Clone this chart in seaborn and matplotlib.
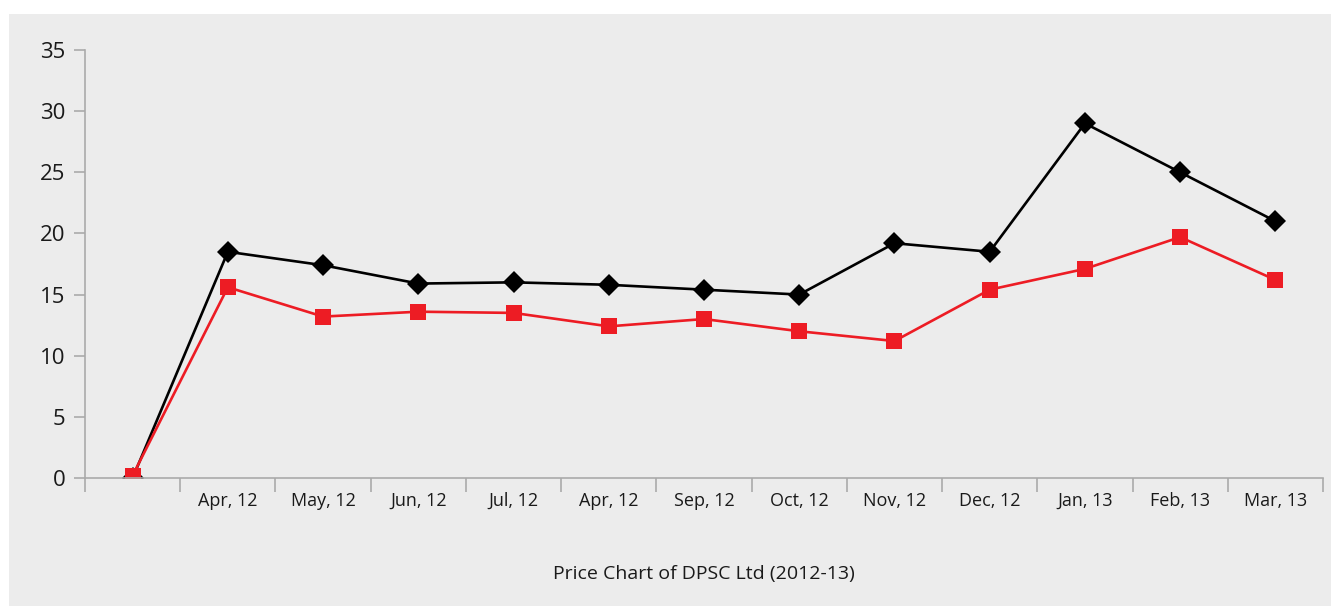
import matplotlib
matplotlib.use("Agg")
import matplotlib.pyplot as plt
import matplotlib.patches as patches
import seaborn as sns
import pandas as pd

# data
months = ["", "Apr, 12", "May, 12", "Jun, 12", "Jul, 12", "Apr, 12", "Sep, 12",
          "Oct, 12", "Nov, 12", "Dec, 12", "Jan, 13", "Feb, 13", "Mar, 13"]
high = [0.0, 18.5, 17.4, 15.9, 16.0, 15.8, 15.4, 15.0, 19.2, 18.5, 29.0, 25.0, 21.0]
low = [0.2, 15.6, 13.2, 13.6, 13.5, 12.4, 13.0, 12.0, 11.2, 15.4, 17.1, 19.7, 16.2]

df = pd.DataFrame({"pos": range(len(months)), "high": high, "low": low})

sns.set_style("white")
plt.rcParams['font.family'] = ['Open Sans', 'DejaVu Sans']

fig = plt.figure(figsize=(13.31, 6.06), dpi=100)
fig.patch.set_facecolor("white")
# grey panel behind everything
fig.patches.append(patches.Rectangle((9 / 1331, 0), 1 - 9 / 1331, 1 - 14 / 606,
                                     transform=fig.transFigure, facecolor="#ececec",
                                     edgecolor="none", zorder=-10))

ax = fig.add_axes([85 / 1331, 1 - 478 / 606, (1323 - 85) / 1331, (478 - 50) / 606])
ax.set_facecolor("#ececec")

sns.lineplot(data=df, x="pos", y="high", ax=ax, color="black", linewidth=1.9,
             marker="D", markersize=11.5, markeredgewidth=0)
sns.lineplot(data=df, x="pos", y="low", ax=ax, color="#ed1c24", linewidth=1.9,
             marker="s", markersize=11.5, markeredgewidth=0)

ax.set_xlim(-0.5, len(months) - 0.5)
ax.set_ylim(0, 35)
ax.set_yticks(range(0, 36, 5))
ax.tick_params(axis="y", length=8, width=1.2, color="#aaaaaa", labelsize=16,
               labelcolor="#1a1a1a", pad=6, left=True)

# x: ticks at band edges, labels at centres
ax.set_xticks([i - 0.5 for i in range(len(months) + 1)])
ax.set_xticklabels([])
ax.tick_params(axis="x", length=10, width=1.2, color="#aaaaaa", bottom=True)
ax.set_xticks(range(len(months)), minor=True)
ax.set_xticklabels(months, minor=True)
ax.tick_params(axis="x", which="minor", length=0, labelsize=13, labelcolor="#1a1a1a", pad=10)

for s in ["top", "right"]:
    ax.spines[s].set_visible(False)
for s in ["left", "bottom"]:
    ax.spines[s].set_color("#aaaaaa")
    ax.spines[s].set_linewidth(1.2)

ax.set_xlabel("Price Chart of DPSC Ltd (2012-13)", fontsize=14, color="#1a1a1a", labelpad=40)
ax.set_ylabel("")

fig.savefig("out.png", dpi=100, facecolor=fig.get_facecolor())
